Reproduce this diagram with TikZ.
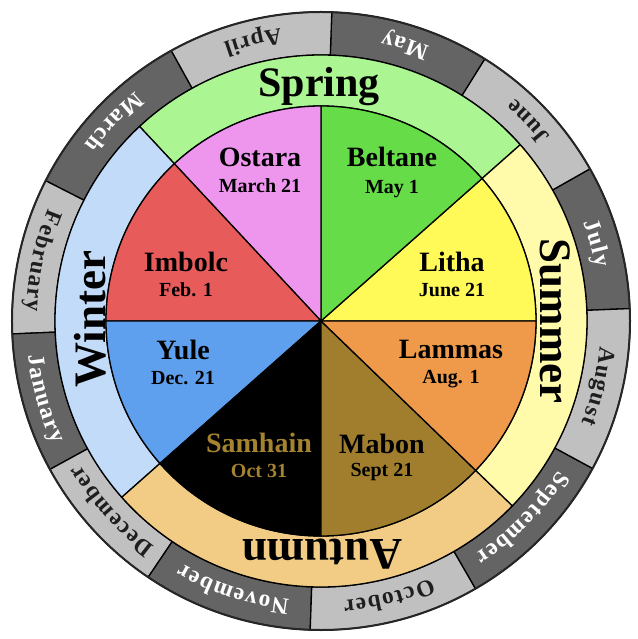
\documentclass[tikz,border=0pt]{standalone}
\usepackage{fontspec}
\setmainfont{Liberation Serif}
\newfontfamily\mfont{Liberation Serif}
\usetikzlibrary{decorations.text}
\definecolor{mlight}{HTML}{C0C0C0}
\definecolor{mdark}{HTML}{646464}
\definecolor{mtext}{HTML}{1E1E1E}
\definecolor{springc}{HTML}{ABF593}
\definecolor{summerc}{HTML}{FFFBAA}
\definecolor{autumnc}{HTML}{F2CC85}
\definecolor{winterc}{HTML}{C2DBF9}
\definecolor{ostarac}{HTML}{EE96EE}
\definecolor{beltanec}{HTML}{66DD48}
\definecolor{lithac}{HTML}{FFFA58}
\definecolor{lammasc}{HTML}{EE9A4A}
\definecolor{mabonc}{HTML}{A07E2E}
\definecolor{yulec}{HTML}{5FA0EE}
\definecolor{imbolcc}{HTML}{E85B5B}
\definecolor{samtext}{HTML}{A58430}
\tikzset{
  border/.style={draw=black, line width=1.3pt, line join=round},
  fest/.style={font=\bfseries\fontsize{28}{28}\selectfont, inner sep=0pt, text height=19pt, text depth=0pt},
  fdate/.style={font=\bfseries\fontsize{20}{20}\selectfont, inner sep=0pt, text height=13pt, text depth=0pt},
  season/.style={font=\bfseries\fontsize{45}{45}\selectfont, inner sep=0pt, anchor=base}
}
\begin{document}
\begin{tikzpicture}[x=1pt,y=1pt]
\useasboundingbox (-321,-318) rectangle (316,321);
% month ring
\foreach \a/\b/\c in {2.3/29.5/mdark, 29.5/58/mlight, 58/88/mdark, 88/119/mlight, 119/153/mdark, 153/182.4/mlight, 182.4/208.7/mdark, 208.7/236/mlight, 236/268/mdark, 268/300/mlight, 300/331.5/mdark, 331.5/362.3/mlight}{
  \path[border, fill=\c] (\a:266) arc[start angle=\a, end angle=\b, radius=266] -- (\b:309) arc[start angle=\b, end angle=\a, radius=309] -- cycle;
}
\draw[line width=2pt, draw=black!85] (0,0) circle[radius=309];
% season ring
\foreach \a/\b/\c in {41.5/133/springc, 133/221.5/winterc, 221.5/316/autumnc, 316/401.5/summerc}{
  \path[border, fill=\c] (\a:215) arc[start angle=\a, end angle=\b, radius=215] -- (\b:266) arc[start angle=\b, end angle=\a, radius=266] -- cycle;
}
% wheel
\foreach \a/\b/\c in {0/41.5/lithac, 41.5/90/beltanec, 90/133/ostarac, 133/180/imbolcc, 180/221.5/yulec, 221.5/270/black, 270/316/mabonc, 316/360/lammasc}{
  \path[border, fill=\c] (0,0) -- (\a:215) arc[start angle=\a, end angle=\b, radius=215] -- cycle;
}
% month names, tops inward (counterclockwise)
\foreach \a/\b/\n/\c in {29.5/58/June/mtext, 58/88/May/white, 88/119/April/mtext, 119/153/March/white, 153/182.4/February/mtext, 182.4/208.7/January/white}{
  \path[decorate, decoration={text along path, text align=center,
     text={|\mfont\bfseries\fontsize{23.5}{23.5}\selectfont\color{\c}\kern1.4pt|\n}}]
     (\a:295) arc[start angle=\a, end angle=\b, radius=295];
}
% month names, tops outward (clockwise)
\foreach \a/\b/\n/\c in {2.3/29.5/July/white, 331.5/362.3/August/mtext, 300/331.5/September/white, 268/300/October/mtext, 236/268/November/white, 208.7/236/December/mtext}{
  \path[decorate, decoration={text along path, text align=center,
     text={|\mfont\bfseries\fontsize{23.5}{23.5}\selectfont\color{\c}\kern1.4pt|\n}}]
     (\b:280) arc[start angle=\b, end angle=\a, radius=280];
}
% seasons
\node[season, font=\bfseries\fontsize{42}{42}\selectfont] (spring) at (-2,224) {Spring};
\node[season, rotate=-90] (summer) at (219,0) {Summer};
\node[season, rotate=180] (autumn) at (1,-218) {Autumn};
\node[season, rotate=90] (winter) at (-215,2) {Winter};
% festivals
\node[fest] (ostara) at (-61,164) {Ostara};
\node[fdate] (ostarad) at (-61,135) {March 21};
\node[fest] (beltane) at (71,164) {Beltane};
\node[fdate] (beltaned) at (71,134) {May 1};
\node[fest] (imbolc) at (-135,59) {Imbolc};
\node[fdate] (imbolcd) at (-135,31) {Feb. 1};
\node[fest] (litha) at (131,59) {Litha};
\node[fdate] (lithad) at (131,31) {June 21};
\node[fest] (yule) at (-138,-29) {Yule};
\node[fdate] (yuled) at (-138,-57) {Dec. 21};
\node[fest] (lammas) at (130,-28) {Lammas};
\node[fdate] (lammasd) at (130,-56) {Aug. 1};
\node[fest, text=samtext] (samhain) at (-62,-122) {Samhain};
\node[fdate, text=samtext] (samhaind) at (-62,-150) {Oct 31};
\node[fest] (mabon) at (61,-123) {Mabon};
\node[fdate] (mabond) at (61,-149) {Sept 21};
\end{tikzpicture}
\end{document}
